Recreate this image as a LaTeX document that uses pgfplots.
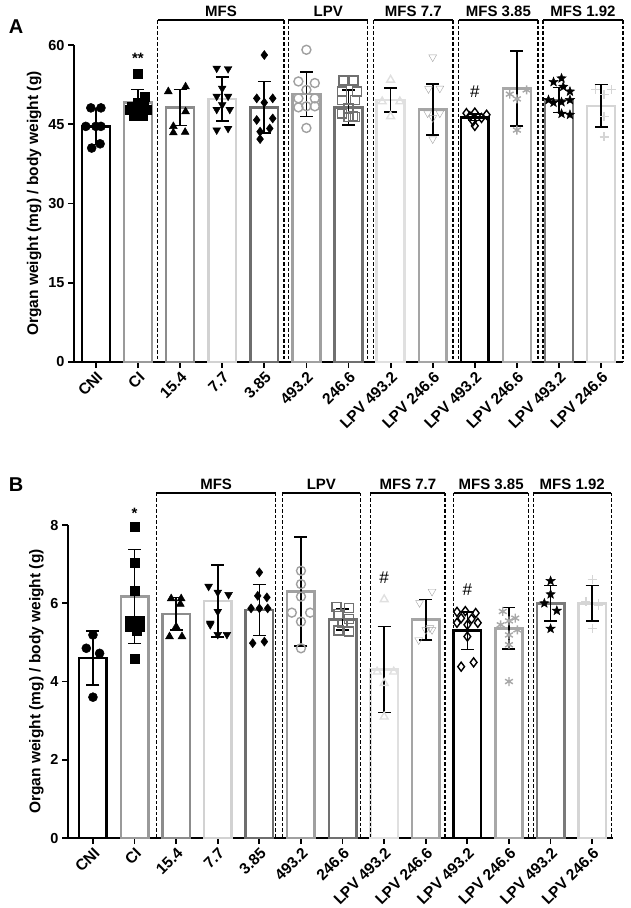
\documentclass[border=0pt]{standalone}
\usepackage{pgfplots}
\pgfplotsset{compat=1.18}
\usepackage{fontspec}
\setmainfont{Liberation Sans}
\usetikzlibrary{plotmarks}
\definecolor{cCI}{HTML}{9A9A9A}
\definecolor{cA}{HTML}{8C8C8C}
\definecolor{cB}{HTML}{D2D2D2}
\definecolor{cC}{HTML}{6E6E6E}
\definecolor{cD}{HTML}{A0A0A0}
\definecolor{cE}{HTML}{707070}
\definecolor{cF}{HTML}{E0E0E0}
\definecolor{cG}{HTML}{A5A5A5}
\definecolor{cH}{HTML}{A8A8A8}
\definecolor{cI}{HTML}{7A7A7A}
\definecolor{cJ}{HTML}{D5D5D5}
\pgfdeclareplotmark{fstar}{%
  \pgfpathmoveto{\pgfpointpolar{90}{\pgfplotmarksize}}%
  \pgfpathlineto{\pgfpointpolar{126}{0.42\pgfplotmarksize}}%
  \pgfpathlineto{\pgfpointpolar{162}{\pgfplotmarksize}}%
  \pgfpathlineto{\pgfpointpolar{198}{0.42\pgfplotmarksize}}%
  \pgfpathlineto{\pgfpointpolar{234}{\pgfplotmarksize}}%
  \pgfpathlineto{\pgfpointpolar{270}{0.42\pgfplotmarksize}}%
  \pgfpathlineto{\pgfpointpolar{306}{\pgfplotmarksize}}%
  \pgfpathlineto{\pgfpointpolar{342}{0.42\pgfplotmarksize}}%
  \pgfpathlineto{\pgfpointpolar{18}{\pgfplotmarksize}}%
  \pgfpathlineto{\pgfpointpolar{54}{0.42\pgfplotmarksize}}%
  \pgfpathclose
  \pgfusepathqfillstroke}
\pgfplotsset{
  panel/.style={
    scale only axis,
    axis x line*=bottom, axis y line*=left,
    axis line style={line width=1.8pt, black},
    every tick/.style={line width=1.8pt, black},
    tick align=outside, major tick length=6pt,
    xmin=-0.52, xmax=12.52, ymin=0,
    xtick={0,...,12},
    xticklabels={CNI,CI,15.4,7.7,3.85,493.2,246.6,LPV 493.2,LPV 246.6,LPV 493.2,LPV 246.6,LPV 493.2,LPV 246.6},
    x tick label style={rotate=45, anchor=north east, font=\bfseries\fontsize{15.5}{15.5}\selectfont, inner sep=1.5pt},
    y tick label style={font=\bfseries\fontsize{14.5}{14.5}\selectfont},
    /pgf/number format/assume math mode=true,
    ylabel={Organ weight (mg) / body weight (g)},
    ylabel style={font=\bfseries\fontsize{15.5}{15.5}\selectfont},
    clip=false,
  },
  bar/.style={ybar, bar width=0.66, bar shift=0pt, fill=white, draw=#1, line width=2.5pt, mark=none, forget plot},
  fpts/.style={only marks, mark=#1, mark size=4.5pt, black, mark options={fill=black, draw=black, line width=0.5pt}, forget plot},
  opts/.style 2 args={only marks, mark=#1, mark size=4.5pt, color=#2, mark options={draw=#2, line width=1.4pt, fill=white}, forget plot},
  eb/.style={draw=none, mark=none, forget plot,
    error bars/.cd, y dir=both, y explicit,
    error bar style={draw=black, solid, line width=1.6pt},
    error mark options={draw=black, solid, rotate=90, mark size=6.5pt, line width=1.6pt}},
}
\newcommand{\grpbox}[5]{%
  \draw[line width=1.5pt] (axis cs:#1,#3) -- (axis cs:#2,#3);
  \draw[line width=1.2pt, dash pattern=on 3.5pt off 2pt] (axis cs:#1,#3) -- (axis cs:#1,0);
  \draw[line width=1.2pt, dash pattern=on 3.5pt off 2pt] (axis cs:#2,#3) -- (axis cs:#2,0);
  \node[anchor=south, inner sep=3pt, font=\bfseries\fontsize{15}{15}\selectfont] at (axis cs:#5,#3) {#4};
}
\begin{document}
\begin{tikzpicture}
\path[use as bounding box] (0pt,0pt) rectangle (630pt,-908pt);
\node[font=\bfseries\fontsize{20}{20}\selectfont] at (16pt,-27pt) {A};
\node[font=\bfseries\fontsize{20}{20}\selectfont] at (16pt,-485pt) {B};
% ---------------- Panel A ----------------
\begin{axis}[panel, at={(74pt,-362pt)}, anchor=south west, width=549pt, height=317pt,
  ymax=60, ytick={0,15,30,45,60}]
\addplot[bar=black] coordinates {(0,44.6)};
\addplot[bar=cCI] coordinates {(1,49.1)};
\addplot[bar=cA] coordinates {(2,48.2)};
\addplot[bar=cB] coordinates {(3,49.8)};
\addplot[bar=cC] coordinates {(4,48.2)};
\addplot[bar=cD] coordinates {(5,50.7)};
\addplot[bar=cE] coordinates {(6,48.2)};
\addplot[bar=cF] coordinates {(7,49.6)};
\addplot[bar=cG] coordinates {(8,47.8)};
\addplot[bar=black] coordinates {(9,46.3)};
\addplot[bar=cH] coordinates {(10,51.8)};
\addplot[bar=cI] coordinates {(11,49.6)};
\addplot[bar=cJ] coordinates {(12,48.5)};
% points
\addplot[fpts=*] coordinates {(-0.12,48.1)(0.12,48.1)(-0.24,44.6)(0,44.6)(0.12,44.6)(-0.1,40.5)(0.1,41.3)};
\addplot[fpts=square*] coordinates {(1,54.5)(1.16,50.3)(0.84,48.3)(1.14,48.3)(0.95,48.0)(0.8,47.8)(1.2,47.8)(0.9,46.6)(1.12,46.6)(1.0,49.0)};
\addplot[fpts=triangle*] coordinates {(1.72,51.2)(2.13,52.1)(2.13,47.4)(1.84,44.6)(2.12,43.5)(1.84,43.4)};
\addplot[fpts=triangle*, mark options={rotate=180}] coordinates {(2.87,55.6)(3.14,55.5)(3,51.8)(2.87,50.3)(3.14,50.3)(3,48.7)(2.87,47.8)(3.18,47.8)(2.87,43.9)(3.14,44.2)};
\addplot[fpts=diamond*] coordinates {(4,58.1)(3.82,49.9)(4.2,49.9)(4,49.1)(3.82,45.8)(4.2,46.1)(3.9,43.6)(4.13,44.2)(3.9,42.2)};
\addplot[opts={o}{cD}] coordinates {(5,59.1)(4.81,53.1)(5.2,52.8)(5,51.5)(4.81,49.9)(5.2,49.9)(5,48.4)(4.81,48.2)(5.2,48.4)(5,44.3)};
\addplot[opts={square}{cE}] coordinates {(5.88,53.3)(6.12,53.3)(5.85,51.2)(6.2,51.2)(5.85,49.6)(6.15,49.6)(6,48.0)(5.85,47.0)(6.1,46.6)(6,46.4)(6.15,46.4)};
\addplot[opts={triangle}{cF}] coordinates {(7,53.4)(6.8,49.3)(7.22,49.3)(7,46.5)};
\addplot[opts={triangle}{cG}, mark options={rotate=180}] coordinates {(8,57.7)(7.9,51.7)(8.17,51.8)(7.88,47.1)(8.17,47.1)(8,46.2)(8,42.2)};
\addplot[opts={diamond}{black}] coordinates {(8.8,47.1)(9,47.2)(9.28,46.8)(8.88,46.5)(9.16,46.2)(8.96,45.6)(9,44.7)};
\addplot[opts={asterisk}{cH}] coordinates {(9.83,50.7)(10.23,51.5)(10,49.8)(10,43.9)};
\addplot[fpts=fstar, mark size=4.8pt] coordinates {(11.06,53.7)(10.87,53.0)(11.1,52.1)(11.26,51.2)(10.75,49.6)(10.87,49.1)(11.06,49.2)(11.26,49.6)(11.06,47.0)(11.26,46.8)};
\addplot[opts={+}{cJ}] coordinates {(11.86,51.6)(12.25,51.6)(12.07,50.6)(12.07,46.5)(12.07,42.6)};
% error bars
\addplot[eb] coordinates {(0,44.6) +- (0,3.4) (1,49.1) +- (0,2.5) (2,48.2) +- (0,3.4) (3,49.8) +- (0,4.2) (4,48.2) +- (0,4.9) (5,50.7) +- (0,4.2) (6,48.2) +- (0,3.3) (7,49.6) +- (0,2.3) (8,47.8) +- (0,4.8) (9,46.3) +- (0,0.6) (10,51.8) +- (0,7.1) (11,49.6) +- (0,2.35) (12,48.5) +- (0,4.0)};
% annotations
\node[font=\bfseries\fontsize{15}{15}\selectfont] at (axis cs:1,57.4) {**};
\node[font=\fontsize{17}{17}\selectfont] at (axis cs:9,51.2) {\#};
% group boxes
\grpbox{1.47}{4.47}{64.7}{MFS}{2.97}
\grpbox{4.57}{6.46}{64.7}{LPV}{5.52}
\grpbox{6.60}{8.48}{64.7}{MFS 7.7}{7.54}
\grpbox{8.62}{10.50}{64.7}{MFS 3.85}{9.56}
\grpbox{10.62}{12.52}{64.7}{MFS 1.92}{11.57}
\end{axis}
% ---------------- Panel B ----------------
\begin{axis}[panel, at={(68pt,-838pt)}, anchor=south west, width=545pt, height=313pt,
  xmin=-0.6, xmax=12.5, ymax=8, ytick={0,2,4,6,8}]
\addplot[bar=black] coordinates {(0,4.60)};
\addplot[bar=cCI] coordinates {(1,6.17)};
\addplot[bar=cA] coordinates {(2,5.73)};
\addplot[bar=cB] coordinates {(3,6.06)};
\addplot[bar=cC] coordinates {(4,5.83)};
\addplot[bar=cD] coordinates {(5,6.30)};
\addplot[bar=cE] coordinates {(6,5.58)};
\addplot[bar=cF] coordinates {(7,4.31)};
\addplot[bar=cG] coordinates {(8,5.58)};
\addplot[bar=black] coordinates {(9,5.30)};
\addplot[bar=cH] coordinates {(10,5.36)};
\addplot[bar=cI] coordinates {(11,6.00)};
\addplot[bar=cJ] coordinates {(12,6.00)};
% points
\addplot[fpts=*] coordinates {(0,5.19)(-0.16,4.85)(0.16,4.72)(0,3.60)};
\addplot[fpts=square*] coordinates {(1,7.96)(1,7.03)(1,6.32)(0.88,5.55)(1.12,5.55)(0.88,5.40)(1.12,5.40)(1,5.47)(1.05,5.30)(1,4.58)};
\addplot[fpts=triangle*] coordinates {(1.88,6.12)(2.12,6.12)(2.1,5.98)(1.84,5.15)(2.14,5.15)(2,5.40)};
\addplot[fpts=triangle*, mark options={rotate=180}] coordinates {(2.78,6.43)(3,6.28)(3.26,6.22)(3,5.79)(2.82,5.49)(3,5.20)(3.22,5.20)(2.82,5.45)};
\addplot[fpts=diamond*] coordinates {(4,6.79)(3.96,6.19)(4.18,6.15)(3.8,5.87)(4.2,5.87)(4,5.87)(3.84,4.98)(4.12,5.02)};
\addplot[opts={o}{cD}] coordinates {(5,6.83)(5,6.49)(5,6.17)(4.78,5.76)(5.22,5.76)(5,5.53)(5,4.85)};
\addplot[opts={square}{cE}] coordinates {(5.85,5.9)(6.15,5.88)(5.9,5.72)(6.15,5.6)(6,5.5)(5.9,5.3)(6.15,5.28)};
\addplot[opts={triangle}{cF}] coordinates {(7,6.10)(6.83,4.25)(7.23,4.25)(7,3.96)(7,3.10)};
\addplot[opts={triangle}{cG}, mark options={rotate=180}] coordinates {(8.15,6.30)(7.85,6.01)(8,5.32)(8.15,5.32)(7.83,5.06)(8.1,5.37)};
\addplot[opts={diamond}{black}] coordinates {(8.75,5.78)(8.95,5.80)(9.2,5.75)(8.85,5.62)(9.1,5.6)(8.75,5.5)(9.25,5.5)(9,5.45)(9,5.15)(8.85,4.38)(9.15,4.49)};
\addplot[opts={asterisk}{cH}] coordinates {(9.85,5.79)(10.15,5.62)(10,5.55)(9.8,5.45)(10.2,5.32)(10,5.19)(10,4.94)(10,4.0)};
\addplot[fpts=fstar, mark size=4.8pt] coordinates {(11,6.57)(11,6.23)(10.85,6.0)(11.15,5.81)(11,5.35)};
\addplot[opts={+}{cJ}] coordinates {(12,6.6)(11.85,6.05)(12.15,6.0)(12.15,5.95)(12,5.36)};
% error bars
\addplot[eb] coordinates {(0,4.60) +- (0,0.69) (1,6.17) +- (0,1.2) (2,5.73) +- (0,0.42) (3,6.06) +- (0,0.92) (4,5.83) +- (0,0.65) (5,6.30) +- (0,1.39) (6,5.58) +- (0,0.27) (7,4.31) +- (0,1.1) (8,5.58) +- (0,0.52) (9,5.30) +- (0,0.48) (10,5.36) +- (0,0.53) (11,6.00) +- (0,0.45) (12,6.00) +- (0,0.45)};
% annotations
\node[font=\bfseries\fontsize{15}{15}\selectfont] at (axis cs:1,8.3) {*};
\node[font=\fontsize{17}{17}\selectfont] at (axis cs:7,6.65) {\#};
\node[font=\fontsize{17}{17}\selectfont] at (axis cs:9,6.35) {\#};
% group boxes
\grpbox{1.52}{4.39}{8.82}{MFS}{2.96}
\grpbox{4.55}{6.43}{8.82}{LPV}{5.49}
\grpbox{6.67}{8.46}{8.82}{MFS 7.7}{7.57}
\grpbox{8.67}{10.46}{8.82}{MFS 3.85}{9.57}
\grpbox{10.58}{12.46}{8.82}{MFS 1.92}{11.52}
\end{axis}
\end{tikzpicture}
\end{document}
